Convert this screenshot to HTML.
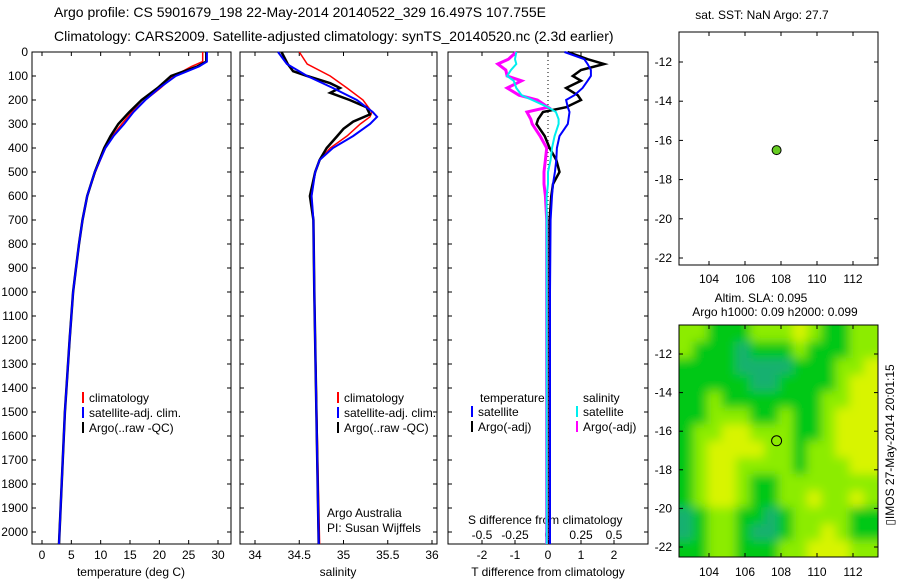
<!DOCTYPE html>
<html><head><meta charset="utf-8"><style>
body{margin:0;background:#fff}
svg{display:block;font-family:"Liberation Sans",sans-serif;font-size:12px}
</style></head><body>
<svg id="c" width="900" height="580" xmlns="http://www.w3.org/2000/svg">
<defs><filter id="bl" x="-5%" y="-5%" width="110%" height="110%"><feGaussianBlur stdDeviation="5"/></filter>
<clipPath id="mc"><rect x="679" y="325" width="199" height="232"/></clipPath></defs>
<text x="54" y="17" font-size="14">Argo profile: CS 5901679_198 22-May-2014 20140522_329 16.497S 107.755E</text>
<text x="54" y="41" font-size="14">Climatology: CARS2009. Satellite-adjusted climatology: synTS_20140520.nc (2.3d earlier)</text>
<text x="762" y="19" text-anchor="middle">sat. SST: NaN Argo: 27.7</text>
<text x="761" y="302" text-anchor="middle">Altim. SLA: 0.095</text>
<text x="775" y="316" text-anchor="middle">Argo h1000: 0.09 h2000: 0.099</text>
<text transform="translate(894,445) rotate(-90)" text-anchor="middle">▯IMOS 27-May-2014 20:01:15</text>
<g id="hm" clip-path="url(#mc)"><g id="hmi" filter="url(#bl)"></g></g>
<g id="g"></g>
</svg>
<script>
const depthTicks=[0,100,200,300,400,500,600,700,800,900,1000,1100,1200,1300,1400,1500,1600,1700,1800,1900,2000];
const tempTicks=[0,5,10,15,20,25,30];
const salTicks=[34,34.5,35,35.5,36];
const dTTicks=[-2,-1,0,1,2];
const dSTicks=[-0.5,-0.25,0,0.25,0.5];
const dSLabels=["-0.5","-0.25","0","0.25","0.5"];
// temperature profiles
const tDepth=[0,40,60,100,150,200,250,300,350,400,500,600,700,800,900,1000,1200,1500,2050];
const tClim=[27.4,27.4,25.5,22.5,20.2,17.6,15.3,13.6,12,10.8,9.1,7.7,6.9,6.3,5.8,5.3,4.7,3.9,2.9];
const tSat=[28.1,28.1,26.8,22.8,20.0,17.6,15.6,14.0,12.2,10.8,9.0,7.7,6.9,6.3,5.8,5.3,4.7,3.9,2.9];
const tArgo=[28.0,28.0,26.5,22.0,19.7,17.0,14.9,13.0,11.7,10.6,9.0,7.7,6.9,6.3,5.8,5.3,4.7,3.9,2.9];
// salinity
const sDepth=[0,50,100,150,200,250,270,300,350,400,450,500,600,700,1000,2050];
const sClim=[34.50,34.59,34.85,35.04,35.22,35.32,35.30,35.19,35.04,34.85,34.73,34.68,34.64,34.66,34.67,34.73];
const sSat=[34.26,34.36,34.59,34.88,35.15,35.33,35.38,35.30,35.11,34.88,34.73,34.68,34.64,34.66,34.67,34.72];
const aDepth=[0,50,80,100,130,150,170,200,230,260,290,320,350,400,450,500,600,700,1000,2050];
const sArgo=[34.30,34.37,34.43,34.59,34.85,34.96,34.85,35.07,35.26,35.30,35.11,35.00,34.93,34.81,34.73,34.68,34.62,34.66,34.67,34.72];
// differences
const dDepth=[0,30,50,75,100,120,150,180,200,230,250,280,300,350,400,450,500,550,600,700,1000,2050];
const dTSat=[0.5,1.1,1.2,1.3,1.3,1.2,1.05,0.8,0.55,0.6,0.65,0.62,0.6,0.35,0.27,0.25,0.21,0.15,0.12,0.08,0.06,0.06];
const dTArgo=[0.6,1.2,1.7,1.0,0.75,1.0,0.55,0.9,1.0,0.55,-0.15,-0.3,-0.35,-0.1,0.05,0.25,0.35,0.15,0.1,0.05,0.05,0.05];
const dSSat=[-0.24,-0.25,-0.24,-0.28,-0.31,-0.26,-0.24,-0.2,-0.12,0.0,0.06,0.08,0.08,0.05,0.03,0.02,0.0,0.0,-0.01,-0.01,-0.01,-0.01];
const dSArgo=[-0.24,-0.3,-0.38,-0.32,-0.31,-0.2,-0.31,-0.22,-0.08,0.0,-0.16,-0.13,-0.12,-0.06,-0.01,-0.02,-0.03,-0.03,-0.02,-0.01,-0.01,-0.01];
// maps
const lonTicks=[104,106,108,110,112];
const latTicks=[-12,-14,-16,-18,-20,-22];
const argoLon=[107.755];
const argoLat=[-16.497];
const slaGrid=[
[2,2,1,1,1,2,2,2,3,2,1,1,2,2],
[2,1,1,1,0,1,1,1,2,1,1,1,2,2],
[1,1,1,1,0,0,0,0,1,1,1,2,2,3],
[1,1,1,1,1,0,0,1,1,1,1,2,3,3],
[1,1,2,1,1,1,1,1,1,1,2,2,3,3],
[1,1,2,2,2,1,1,2,1,1,2,3,3,3],
[1,2,2,3,3,2,2,2,1,1,2,3,3,3],
[1,2,3,3,3,3,2,2,1,2,2,3,3,3],
[1,2,3,3,2,2,2,2,1,2,2,2,3,3],
[1,2,3,3,2,1,1,2,2,2,2,2,2,2],
[1,2,3,3,2,1,1,2,2,3,2,2,3,2],
[0,1,2,2,1,1,0,1,2,2,2,2,1,1],
[0,1,2,2,1,0,0,1,2,2,3,2,1,1],
[1,1,2,2,1,1,1,2,2,3,3,3,2,2]];
const palette=["#18b070","#00c818","#8cec00","#d8f400"];

const NS="http://www.w3.org/2000/svg",G=document.getElementById('g'),HM=document.getElementById('hmi');
function mk(t,a,p){const e=document.createElementNS(NS,t);for(const k in a)e.setAttribute(k,a[k]);(p||G).appendChild(e);return e;}
function lin(d0,d1,r0,r1){return v=>r0+(v-d0)*(r1-r0)/(d1-d0);}
const Y=lin(0,2000,52,532), TOP=52,BOT=544;
const panels=[{x0:32,x1:231},{x0:240,x1:437},{x0:448,x1:648}];
const Xt=lin(0,30,42,218), Xs=lin(34,36,255,432), Xd=lin(0,1,548,581), XdS=lin(0,0.25,548,581);
panels.forEach((p,i)=>{
 const r=mk('rect',{x:p.x0,y:TOP,width:p.x1-p.x0,height:BOT-TOP,fill:'none',stroke:'#000'});
 
 
 depthTicks.forEach(d=>{mk('line',{x1:p.x0,x2:p.x0+4,y1:Y(d),y2:Y(d),stroke:'#000'});mk('line',{x1:p.x1,x2:p.x1-4,y1:Y(d),y2:Y(d),stroke:'#000'});});
});
depthTicks.forEach(d=>{const t=mk('text',{x:28,y:Y(d)+4,'text-anchor':'end'});t.textContent=d;
 
 });
function xt(X,ticks,labels,p,y){ticks.forEach((v,i)=>{mk('line',{x1:X(v),x2:X(v),y1:TOP,y2:TOP+4,stroke:'#000'});mk('line',{x1:X(v),x2:X(v),y1:BOT,y2:BOT-4,stroke:'#000'});
 if(labels){const t=mk('text',{x:X(v),y:y,'text-anchor':'middle'});t.textContent=labels[i];
 
 }});}
xt(Xt,tempTicks,tempTicks,0,559);xt(Xs,salTicks,salTicks,0,559);xt(Xd,dTTicks,dTTicks,0,559);
dSTicks.forEach((v,i)=>{const t=mk('text',{x:XdS(v),y:539,'text-anchor':'middle'});t.textContent=dSLabels[i];
 
 });
function ttl(x,y,s,n,a){const t=mk('text',{x:x,y:y,'text-anchor':a||'middle'});t.textContent=s;
 
 }
ttl(131,576,'temperature (deg C)','temp-axis-title');ttl(338,576,'salinity','sal-axis-title');
ttl(548,576,'T difference from climatology','tdiff-axis-title');ttl(468,524,'S difference from climatology','sdiff-axis-title','start');
ttl(327,517,'Argo Australia','credit-1','start');ttl(327,532,'PI: Susan Wijffels','credit-2','start');
mk('line',{x1:Xd(0),x2:Xd(0),y1:TOP,y2:BOT,stroke:'#000','stroke-dasharray':'1,3'});
function path(xs,ds,X,col,w,name){const d=xs.map((v,i)=>(i?'L':'M')+X(v).toFixed(1)+','+Y(ds[i]).toFixed(1)).join('');
 const e=mk('path',{d:d,fill:'none',stroke:col,'stroke-width':w});
 
 }
path(tClim,tDepth,Xt,'#f00',1.5,'temp-climatology-line');
path(tArgo,tDepth,Xt,'#000',2.5,'temp-argo-line');
path(tSat,tDepth,Xt,'#00f',2,'temp-satellite-line');
path(sClim,sDepth,Xs,'#f00',1.5,'sal-climatology-line');
path(sArgo,aDepth,Xs,'#000',2.5,'sal-argo-line');
path(sSat,sDepth,Xs,'#00f',2,'sal-satellite-line');
path(dSArgo,dDepth,XdS,'#f0f',3,'sdiff-argo-line');
path(dTArgo,dDepth,Xd,'#000',2.5,'tdiff-argo-line');
path(dTSat,dDepth,Xd,'#00f',2,'tdiff-satellite-line');
path(dSSat,dDepth,XdS,'#0ee',2,'sdiff-satellite-line');
function leg(x,y,col,s){mk('line',{x1:x,x2:x,y1:y-10,y2:y+1,stroke:col,'stroke-width':2});const t=mk('text',{x:x+6,y:y});t.textContent=s;
 
 }
[[83,'#f00','climatology'],[83,'#00f','satellite-adj. clim.'],[83,'#000','Argo(..raw -QC)']].forEach((l,i)=>{leg(l[0],402+i*15,l[1],l[2]);leg(338,402+i*15,l[1],l[2]);});
ttl(480,402,'temperature','legend-temp-head','start');ttl(583,402,'salinity','legend-sal-head','start');
leg(472,416,'#00f','satellite');leg(472,431,'#000','Argo(-adj)');leg(577,416,'#0ee','satellite');leg(577,431,'#f0f','Argo(-adj)');
function mapAxes(x0,x1,y0,y1,lonX,latY,labY,name){
 const r=mk('rect',{x:x0,y:y0,width:x1-x0,height:y1-y0,fill:'none',stroke:'#000'});
 
 
 lonTicks.forEach(v=>{mk('line',{x1:lonX(v),x2:lonX(v),y1:y0,y2:y0+4,stroke:'#000'});mk('line',{x1:lonX(v),x2:lonX(v),y1:y1,y2:y1-4,stroke:'#000'});
  const t=mk('text',{x:lonX(v),y:labY,'text-anchor':'middle'});t.textContent=v;
  
  });
 latTicks.forEach(v=>{mk('line',{x1:x0,x2:x0+4,y1:latY(v),y2:latY(v),stroke:'#000'});mk('line',{x1:x1,x2:x1-4,y1:latY(v),y2:latY(v),stroke:'#000'});
  const t=mk('text',{x:x0-7,y:latY(v)+4,'text-anchor':'end'});t.textContent=v;
  
  });}
const LX=lin(104,112,709,853), LY1=lin(-12,-22,62,258), LY2=lin(-12,-22,354,547);
const nR=slaGrid.length,nC=slaGrid[0].length,cw=(878-679)/nC,ch=(557-325)/nR;
slaGrid.forEach((row,i)=>row.forEach((v,j)=>{
 const ex=(j===0?-12:0),ey=(i===0?-12:0),ew=(j===nC-1?12:0)-ex,eh=(i===nR-1?12:0)-ey;
 const e=mk('rect',{x:679+j*cw+ex,y:325+i*ch+ey,width:cw+0.6+ew,height:ch+0.6+eh,fill:palette[v]},HM);
 
 }));
mapAxes(679,878,32,265,LX,LY1,283,'sst-map-frame');
mapAxes(679,878,325,557,LX,LY2,576,'sla-map-frame');
const d1=mk('circle',{cx:LX(argoLon[0]),cy:LY1(argoLat[0]),r:4.5,fill:'#6c2',stroke:'#000'});


const d2=mk('circle',{cx:LX(argoLon[0]),cy:LY2(argoLat[0]),r:5,fill:'none',stroke:'#000'});


</script>
</body></html>
